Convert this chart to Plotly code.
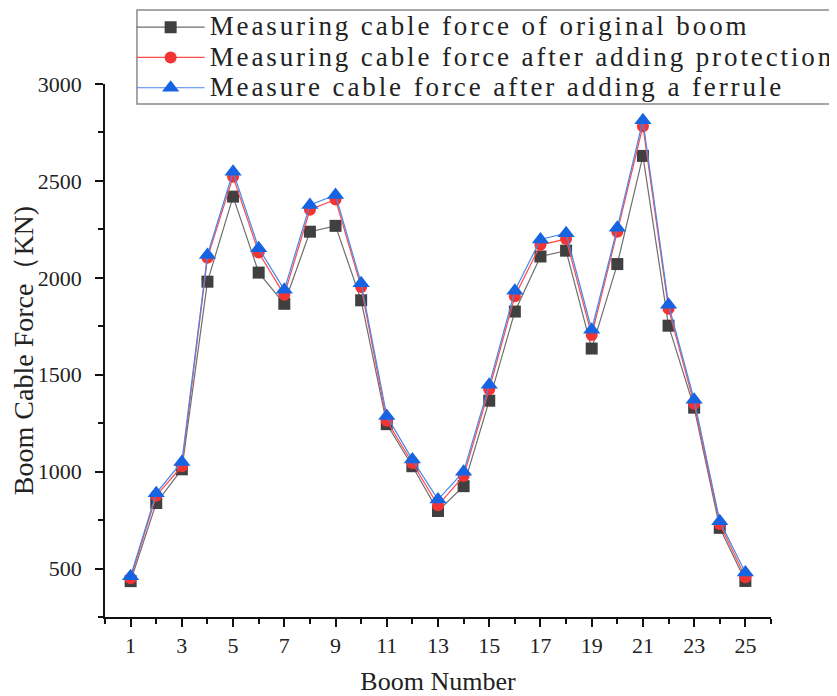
import plotly.graph_objects as go

booms = list(range(1, 26))
original = [435, 838, 1012, 1980, 2419, 2027, 1866, 2238, 2268, 1884, 1245, 1028, 797,
            925, 1366, 1826, 2110, 2140, 1635, 2071, 2629, 1753, 1330, 710, 436]
protection = [450, 875, 1028, 2103, 2521, 2130, 1912, 2351, 2404, 1952, 1262, 1045, 826,
              977, 1425, 1905, 2170, 2200, 1705, 2238, 2782, 1840, 1350, 730, 455]
ferrule = [460, 889, 1050, 2118, 2547, 2153, 1938, 2376, 2427, 1972, 1287, 1062, 856,
           1000, 1448, 1933, 2198, 2230, 1732, 2258, 2813, 1861, 1371, 744, 480]

names = ["Measuring cable force of original boom",
         "Measuring cable force after adding protection",
         "Measure cable force after adding a ferrule"]
x_ticks = list(range(1, 26, 2))
y_ticks = [500, 1000, 1500, 2000, 2500, 3000]

FONT = "Liberation Serif"
LEG_STYLE = "font-size:27px;letter-spacing:2.9px"

fig = go.Figure()
fig.add_trace(go.Scatter(x=booms, y=original,
                         name=f'<span style="{LEG_STYLE}">{names[0]}</span>',
                         mode="lines+markers",
                         line=dict(color="#6e6e6e", width=1.2),
                         marker=dict(symbol="square", size=12, color="#404040")))
fig.add_trace(go.Scatter(x=booms, y=protection,
                         name=f'<span style="{LEG_STYLE}">{names[1]}</span>',
                         mode="lines+markers",
                         line=dict(color="#ff4a4a", width=1.2),
                         marker=dict(symbol="circle", size=12, color="#f23434")))
fig.add_trace(go.Scatter(x=booms, y=ferrule,
                         name=f'<span style="{LEG_STYLE}">{names[2]}</span>',
                         mode="lines+markers",
                         line=dict(color="#4a86ea", width=1.2),
                         marker=dict(symbol="triangle-up", size=15, color="#1764e2")))

axis_common = dict(showline=True, linecolor="#111", linewidth=1.6, ticks="outside",
                   tickcolor="#111", tickwidth=1.6, ticklen=8, showgrid=False,
                   zeroline=False, tickfont=dict(family=FONT, size=22, color="#222"))

fig.update_xaxes(range=[0, 26], tickmode="array", tickvals=x_ticks,
                 ticklabelstandoff=0,
                 minor=dict(dtick=1, tick0=0, ticks="outside", ticklen=5,
                            tickcolor="#111", tickwidth=1.5),
                 title=dict(text="Boom Number", font=dict(family=FONT, size=26, color="#222"),
                            standoff=20),
                 **axis_common)
fig.update_yaxes(range=[250, 3000], tickmode="array", tickvals=y_ticks,
                 ticklabelstandoff=9,
                 minor=dict(dtick=250, tick0=0, ticks="outside", ticklen=5,
                            tickcolor="#111", tickwidth=1.5),
                 title=dict(text="Boom Cable Force（KN)", font=dict(family=FONT, size=28, color="#222"),
                            standoff=4),
                 **axis_common)

# page body adds an 8px offset; figure is sized/margined to compensate
fig.update_layout(
    width=829, height=688,
    margin=dict(l=97, r=66, t=76, b=79, autoexpand=False),
    paper_bgcolor="white", plot_bgcolor="white",
    showlegend=True,
    legend=dict(x=0.040, y=1.1445, xanchor="left", yanchor="top",
                bgcolor="rgba(255,255,255,0)", borderwidth=0,
                itemwidth=68, tracegroupgap=0,
                font=dict(family=FONT, size=21, color="#222")),
    shapes=[dict(type="rect", xref="paper", yref="paper",
                 x0=0.048, x1=1.0976, y0=0.9625, y1=1.1388,
                 line=dict(color="#8a8a8a", width=1.5), fillcolor="rgba(0,0,0,0)",
                 layer="above")],
)

fig.write_html("out.html")
